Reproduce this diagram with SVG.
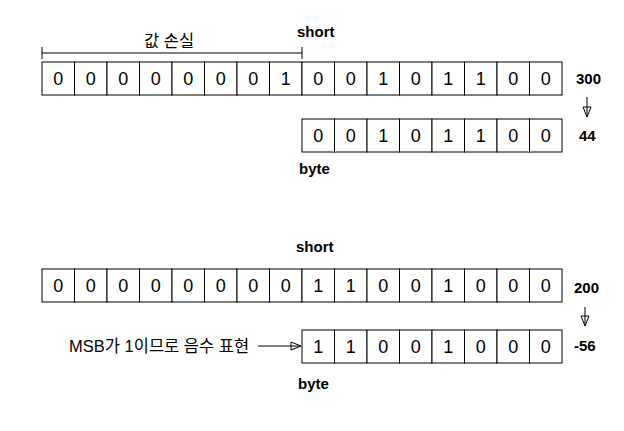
<svg xmlns="http://www.w3.org/2000/svg" width="624" height="431" viewBox="0 0 624 431">
<defs>
<style>
.cell{fill:#fff;stroke:#000;stroke-width:1}
.d{font-family:"Liberation Sans",Arial,sans-serif;font-size:18px;text-anchor:middle;fill:#000}
.lbl{font-family:"Liberation Sans",Arial,sans-serif;font-size:15px;font-weight:bold;fill:#000}
.kr{font-family:"Liberation Sans",Arial,"Noto Sans CJK KR",sans-serif;font-size:16.5px;fill:#000}
.ln{stroke:#000;stroke-width:1;fill:none}
</style>
<marker id="arr" viewBox="0 0 12 12" refX="11" refY="6" markerWidth="12" markerHeight="12" markerUnits="userSpaceOnUse" orient="auto">
<path d="M1,2 L11,6 L1,10 Z" fill="none" stroke="#000" stroke-width="1"/>
</marker>
</defs>
<rect width="624" height="431" fill="#fff"/>

<g id="short1">
<g transform="translate(42,62)">
<rect class="cell" x="0" y="0" width="32.5" height="33"/><rect class="cell" x="32.5" y="0" width="32.5" height="33"/><rect class="cell" x="65" y="0" width="32.5" height="33"/><rect class="cell" x="97.5" y="0" width="32.5" height="33"/><rect class="cell" x="130" y="0" width="32.5" height="33"/><rect class="cell" x="162.5" y="0" width="32.5" height="33"/><rect class="cell" x="195" y="0" width="32.5" height="33"/><rect class="cell" x="227.5" y="0" width="32.5" height="33"/><rect class="cell" x="260" y="0" width="32.5" height="33"/><rect class="cell" x="292.5" y="0" width="32.5" height="33"/><rect class="cell" x="325" y="0" width="32.5" height="33"/><rect class="cell" x="357.5" y="0" width="32.5" height="33"/><rect class="cell" x="390" y="0" width="32.5" height="33"/><rect class="cell" x="422.5" y="0" width="32.5" height="33"/><rect class="cell" x="455" y="0" width="32.5" height="33"/><rect class="cell" x="487.5" y="0" width="32.5" height="33"/>
<text class="d" x="16.25" y="23">0</text><text class="d" x="48.75" y="23">0</text><text class="d" x="81.25" y="23">0</text><text class="d" x="113.75" y="23">0</text><text class="d" x="146.25" y="23">0</text><text class="d" x="178.75" y="23">0</text><text class="d" x="211.25" y="23">0</text><text class="d" x="243.75" y="23">1</text><text class="d" x="276.25" y="23">0</text><text class="d" x="308.75" y="23">0</text><text class="d" x="341.25" y="23">1</text><text class="d" x="373.75" y="23">0</text><text class="d" x="406.25" y="23">1</text><text class="d" x="438.75" y="23">1</text><text class="d" x="471.25" y="23">0</text><text class="d" x="503.75" y="23">0</text>
</g>
</g>

<g id="byte1">
<g transform="translate(302,119)">
<rect class="cell" x="0" y="0" width="32.5" height="33"/><rect class="cell" x="32.5" y="0" width="32.5" height="33"/><rect class="cell" x="65" y="0" width="32.5" height="33"/><rect class="cell" x="97.5" y="0" width="32.5" height="33"/><rect class="cell" x="130" y="0" width="32.5" height="33"/><rect class="cell" x="162.5" y="0" width="32.5" height="33"/><rect class="cell" x="195" y="0" width="32.5" height="33"/><rect class="cell" x="227.5" y="0" width="32.5" height="33"/>
<text class="d" x="16.25" y="23">0</text><text class="d" x="48.75" y="23">0</text><text class="d" x="81.25" y="23">1</text><text class="d" x="113.75" y="23">0</text><text class="d" x="146.25" y="23">1</text><text class="d" x="178.75" y="23">1</text><text class="d" x="211.25" y="23">0</text><text class="d" x="243.75" y="23">0</text>
</g>
</g>

<g id="short2">
<g transform="translate(42,269)">
<rect class="cell" x="0" y="0" width="32.5" height="33"/><rect class="cell" x="32.5" y="0" width="32.5" height="33"/><rect class="cell" x="65" y="0" width="32.5" height="33"/><rect class="cell" x="97.5" y="0" width="32.5" height="33"/><rect class="cell" x="130" y="0" width="32.5" height="33"/><rect class="cell" x="162.5" y="0" width="32.5" height="33"/><rect class="cell" x="195" y="0" width="32.5" height="33"/><rect class="cell" x="227.5" y="0" width="32.5" height="33"/><rect class="cell" x="260" y="0" width="32.5" height="33"/><rect class="cell" x="292.5" y="0" width="32.5" height="33"/><rect class="cell" x="325" y="0" width="32.5" height="33"/><rect class="cell" x="357.5" y="0" width="32.5" height="33"/><rect class="cell" x="390" y="0" width="32.5" height="33"/><rect class="cell" x="422.5" y="0" width="32.5" height="33"/><rect class="cell" x="455" y="0" width="32.5" height="33"/><rect class="cell" x="487.5" y="0" width="32.5" height="33"/>
<text class="d" x="16.25" y="23">0</text><text class="d" x="48.75" y="23">0</text><text class="d" x="81.25" y="23">0</text><text class="d" x="113.75" y="23">0</text><text class="d" x="146.25" y="23">0</text><text class="d" x="178.75" y="23">0</text><text class="d" x="211.25" y="23">0</text><text class="d" x="243.75" y="23">0</text><text class="d" x="276.25" y="23">1</text><text class="d" x="308.75" y="23">1</text><text class="d" x="341.25" y="23">0</text><text class="d" x="373.75" y="23">0</text><text class="d" x="406.25" y="23">1</text><text class="d" x="438.75" y="23">0</text><text class="d" x="471.25" y="23">0</text><text class="d" x="503.75" y="23">0</text>
</g>
</g>

<g id="byte2">
<g transform="translate(302,330)">
<rect class="cell" x="0" y="0" width="32.5" height="33"/><rect class="cell" x="32.5" y="0" width="32.5" height="33"/><rect class="cell" x="65" y="0" width="32.5" height="33"/><rect class="cell" x="97.5" y="0" width="32.5" height="33"/><rect class="cell" x="130" y="0" width="32.5" height="33"/><rect class="cell" x="162.5" y="0" width="32.5" height="33"/><rect class="cell" x="195" y="0" width="32.5" height="33"/><rect class="cell" x="227.5" y="0" width="32.5" height="33"/>
<text class="d" x="16.25" y="23">1</text><text class="d" x="48.75" y="23">1</text><text class="d" x="81.25" y="23">0</text><text class="d" x="113.75" y="23">0</text><text class="d" x="146.25" y="23">1</text><text class="d" x="178.75" y="23">0</text><text class="d" x="211.25" y="23">0</text><text class="d" x="243.75" y="23">0</text>
</g>
</g>

<g id="labels">
<text class="lbl" x="297" y="37">short</text>
<text class="lbl" x="576" y="84">300</text>
<text class="lbl" x="579" y="141">44</text>
<text class="lbl" x="299" y="174">byte</text>
<text class="lbl" x="296" y="252">short</text>
<text class="lbl" x="574" y="293">200</text>
<text class="lbl" x="574" y="351">-56</text>
<text class="lbl" x="298" y="389">byte</text>
<text class="kr" x="169" y="47" text-anchor="middle">값 손실</text>
<text class="kr" x="69" y="352">MSB가 1이므로 음수 표현</text>
</g>

<g id="connectors">
<path class="ln" d="M42,47 V59 M302,47 V59 M42,53 H302"/>
<path class="ln" d="M587,97 V117" marker-end="url(#arr)"/>
<path class="ln" d="M585,307 V326" marker-end="url(#arr)"/>
<path class="ln" d="M258,346 H301" marker-end="url(#arr)"/>
</g>
</svg>
